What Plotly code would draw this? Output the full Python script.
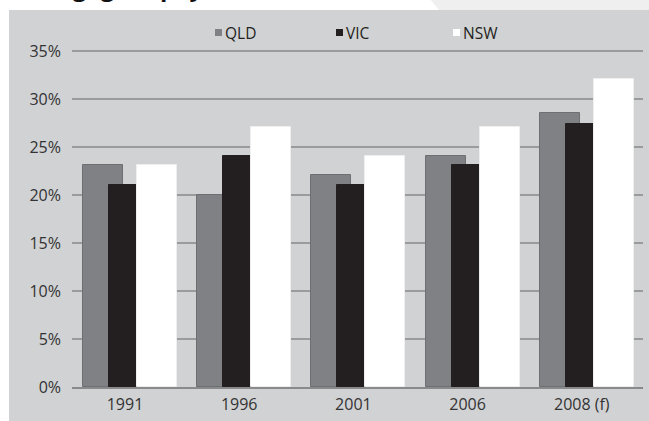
import plotly.graph_objects as go

# Share of household income spent on mortgage repayments, by state
years = ["1991", "1996", "2001", "2006", "2008 (f)"]
states = ["QLD", "VIC", "NSW"]
qld = [0.231, 0.200, 0.221, 0.241, 0.285]
vic = [0.210, 0.241, 0.210, 0.231, 0.274]
nsw = [0.231, 0.271, 0.241, 0.271, 0.321]
y_ticks = [0, 0.05, 0.10, 0.15, 0.20, 0.25, 0.30, 0.35]
y_tick_text = ["0%", "5%", "10%", "15%", "20%", "25%", "30%", "35%"]

colors = ["#808184", "#231f20", "#ffffff"]
edge = ["#6e6f72", "#231f20", "#eeeeee"]
offsets = [-0.368, -0.14, 0.105]
bar_w = 0.35

W, H = 649, 421
ML, MR, MT, MB = 72, 6, 45, 34
PW, PH = W - ML - MR, H - MT - MB


def fx(px):
    return (px - ML) / PW


def fy(py):
    return (H - MB - py) / PH


fig = go.Figure()
for name, vals, c, e, off in zip(states, [qld, vic, nsw], colors, edge, offsets):
    fig.add_trace(go.Bar(
        x=years, y=vals, name=name,
        marker=dict(color=c, line=dict(color=e, width=1)),
        width=bar_w, offset=off, showlegend=False,
    ))

shapes = [
    # grey panel behind the chart
    dict(type="rect", xref="paper", yref="paper", layer="below",
         x0=fx(9), x1=fx(W + 2), y0=fy(H + 2), y1=fy(10),
         fillcolor="#d1d2d4", line=dict(width=0)),
    # light wedge along the top right
    dict(type="path", xref="paper", yref="paper", layer="below",
         path=f"M{fx(430)},{fy(-1)} L{fx(W + 2)},{fy(-1)} L{fx(W + 2)},{fy(10)} L{fx(439)},{fy(10)} Z",
         fillcolor="#efefef", line=dict(width=0)),
]

annotations = [
    dict(text="<b>Mortgage repayments</b>", xref="paper", yref="paper",
         x=fx(12), y=fy(5), xanchor="left", yanchor="bottom", showarrow=False,
         font=dict(family="Open Sans", size=24, color="#111111")),
]

# custom legend: small squares with labels
legend_x = [215, 336, 453]
for name, c, lx in zip(states, colors, legend_x):
    shapes.append(dict(type="rect", xref="paper", yref="paper",
                       x0=fx(lx), x1=fx(lx + 7), y0=fy(36), y1=fy(29),
                       fillcolor=c, line=dict(width=0)))
    annotations.append(dict(text=name, xref="paper", yref="paper",
                            x=fx(lx + 8), y=fy(33), xanchor="left", yanchor="middle",
                            showarrow=False,
                            font=dict(family="Open Sans", size=15.5, color="#231f20")))

fig.update_layout(
    width=W, height=H,
    margin=dict(l=ML, r=MR, t=MT, b=MB, pad=0),
    paper_bgcolor="#ffffff",
    plot_bgcolor="rgba(0,0,0,0)",
    barmode="overlay",
    bargap=0,
    font=dict(family="Open Sans", size=16, color="#333333"),
    shapes=shapes,
    annotations=annotations,
    xaxis=dict(
        type="category", range=[-0.464, 4.536],
        showline=True, linecolor="#8a8a8c", linewidth=2,
        showgrid=False, ticks="", ticklabelstandoff=2,
        tickfont=dict(size=16, color="#333333"),
    ),
    yaxis=dict(
        range=[0, 0.35625], tickvals=y_ticks, ticktext=y_tick_text,
        showgrid=True, gridcolor="#9b9b9d", gridwidth=1.5,
        zeroline=False, showline=False, ticks="", ticklabelstandoff=10,
        tickfont=dict(size=16, color="#333333"),
    ),
)

fig.write_html("out.html")
